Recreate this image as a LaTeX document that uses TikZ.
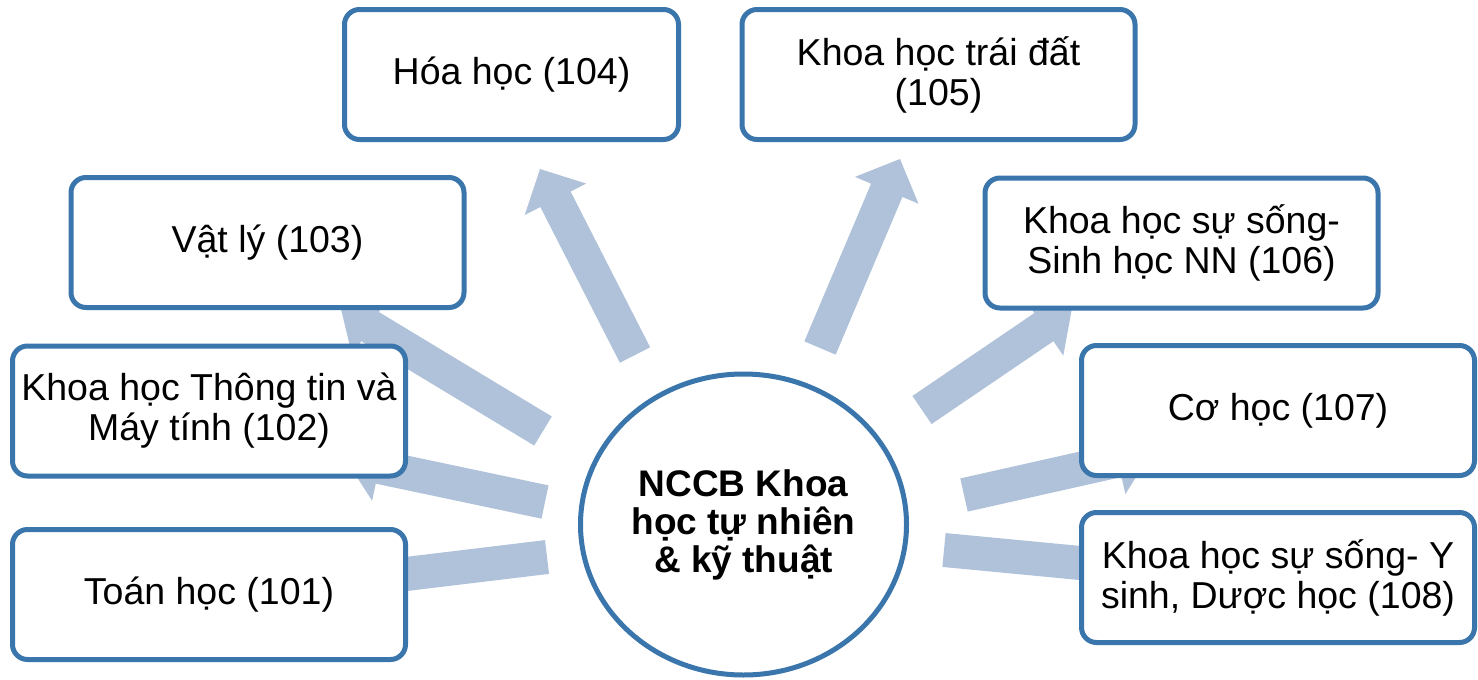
\documentclass[tikz,border=0pt]{standalone}
\usepackage{fontspec}
\setmainfont{Liberation Sans}
\usetikzlibrary{calc,shapes.geometric}
\definecolor{boxline}{RGB}{58,117,172}
\definecolor{arrowfill}{RGB}{175,194,218}
\newcommand\blockarrow[2]{%
  \coordinate (hb) at ($(#2)!34pt!(#1)$);
  \fill[arrowfill] ($(#1)!17pt!-90:(#2)$) -- ($(hb)!17pt!-90:(#2)$) -- ($(hb)!34.5pt!-90:(#2)$) -- (#2)
    -- ($(hb)!34.5pt!90:(#2)$) -- ($(hb)!17pt!90:(#2)$) -- ($(#1)!17pt!90:(#2)$) -- cycle;}
\begin{document}
\begin{tikzpicture}[x=1pt,y=-1pt,
  catbox/.style={draw=boxline, line width=5pt, fill=white, rounded corners=15pt,
    minimum width=393pt, minimum height=130pt, inner sep=0pt, align=center,
    font=\fontsize{37.5}{40}\selectfont},
  hub/.style={draw=boxline, line width=5pt, fill=white, ellipse,
    minimum width=326pt, minimum height=301pt, inner sep=0pt, align=center,
    font=\fontsize{37}{38}\selectfont\bfseries}]
\useasboundingbox (0,0) rectangle (1478,680);
% arrow end points
\coordinate (t1) at (547,557);   \coordinate (h1) at (348,581);
\coordinate (t2) at (545,502);   \coordinate (h2) at (346,460);
\coordinate (t3) at (543,431);   \coordinate (h3) at (341,309);
\coordinate (t4) at (635,355);   \coordinate (h4) at (540,169);
\coordinate (t5) at (820,348);   \coordinate (h5) at (900,159);
\coordinate (t6) at (922,410);   \coordinate (h6) at (1072,308);
\coordinate (t7) at (964,495);   \coordinate (h7) at (1151,453);
\coordinate (t8) at (944,550);   \coordinate (h8) at (1143,569);
\blockarrow{t1}{h1}
\blockarrow{t2}{h2}
\blockarrow{t3}{h3}
\blockarrow{t4}{h4}
\blockarrow{t5}{h5}
\blockarrow{t6}{h6}
\blockarrow{t7}{h7}
\blockarrow{t8}{h8}
% boxes
\node[catbox] (b101) at (209,594.5) {Toán học (101)};
\node[catbox] (b102) at (209,411) {Khoa học Thông tin và\\Máy tính (102)};
\node[catbox] (b103) at (267.5,242.5) {Vật lý (103)};
\node[catbox, minimum width=334pt] (b104) at (511.5,74.5) {Hóa học (104)};
\node[catbox] (b105) at (938.5,74.5) {Khoa học trái đất\\(105)};
\node[catbox] (b106) at (1181.5,243) {Khoa học sự sống-\\Sinh học NN (106)};
\node[catbox] (b107) at (1278,410.5) {Cơ học (107)};
\node[catbox] (b108) at (1278,577.5) {Khoa học sự sống- Y\\sinh, Dược học (108)};
\node[hub] (hub) at (743.5,524.5) {NCCB Khoa\\học tự nhiên\\\& kỹ thuật};
\end{tikzpicture}
\end{document}
